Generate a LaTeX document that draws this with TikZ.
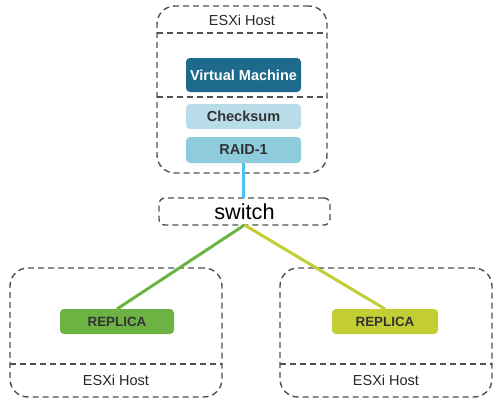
\documentclass[tikz,border=0pt]{standalone}
\usepackage{fontspec}
\setmainfont{Liberation Sans}
\usetikzlibrary{positioning}
\definecolor{vmblue}{HTML}{1D6A8C}
\definecolor{chkblue}{HTML}{B8DDE9}
\definecolor{raidblue}{HTML}{8DCBDD}
\definecolor{linkblue}{HTML}{4DC3EF}
\definecolor{repgreen}{HTML}{6CB344}
\definecolor{repyellow}{HTML}{C3CD34}
\definecolor{txtgray}{HTML}{333333}
\definecolor{dashgray}{HTML}{505050}
\tikzset{
  hostbox/.style={draw=dashgray, line width=1.4pt, dash pattern=on 6pt off 4pt, rounded corners=18pt, inner sep=0pt, outer sep=0pt},
  hostlbl/.style={font=\fontsize{14.5}{16}\selectfont, text=black!85},
  sepline/.style={draw=dashgray, line width=1.4pt, dash pattern=on 6pt off 4pt},
  layerbox/.style={rounded corners=4pt, minimum width=115pt, inner sep=0pt, outer sep=0pt, font=\bfseries\fontsize{14.5}{16}\selectfont, text=txtgray},
  replbox/.style={rounded corners=4pt, minimum height=25pt, inner sep=0pt, outer sep=0pt, font=\bfseries\fontsize{13.4}{15}\selectfont, text=txtgray},
  link/.style={line width=3pt},
}
\begin{document}
\begin{tikzpicture}[x=1pt,y=-1pt]
  \useasboundingbox (0,0) rectangle (500,408);

  % top host
  \node[hostbox, minimum width=170pt, minimum height=167pt] (hostT) at (242,89.5) {};
  \node[hostlbl] (hostTl) at (242,20) {ESXi Host};
  \draw[sepline] (hostT.west |- 0,33) -- (hostT.east |- 0,33);
  \draw[sepline] (hostT.west |- 0,97) -- (hostT.east |- 0,97);

  \node[layerbox, fill=vmblue, text=white, minimum height=34pt] (vm) at (243.5,75) {Virtual Machine};
  \node[layerbox, fill=chkblue, minimum height=25pt] (chk) at (243.5,116.5) {Checksum};
  \node[layerbox, fill=raidblue, minimum height=26pt] (raid) at (243.5,150) {RAID-1};

  % switch
  \node[hostbox, rounded corners=6pt, minimum width=171pt, minimum height=27pt] (sw) at (244.5,211.5) {};
  \node[font=\fontsize{21.7}{24}\selectfont] (swl) at (244.5,212) {switch};

  % bottom hosts
  \node[hostbox, minimum width=212pt, minimum height=129pt] (hostL) at (116,332.5) {};
  \node[hostlbl] (hostLl) at (116,380) {ESXi Host};
  \draw[sepline] (hostL.west |- 0,364) -- (hostL.east |- 0,364);
  \node[replbox, fill=repgreen, minimum width=114pt] (repL) at (117,321.5) {REPLICA};

  \node[hostbox, minimum width=212pt, minimum height=129pt] (hostR) at (386,332.5) {};
  \node[hostlbl] (hostRl) at (386,380) {ESXi Host};
  \draw[sepline] (hostR.west |- 0,364) -- (hostR.east |- 0,364);
  \node[replbox, fill=repyellow, minimum width=106pt] (repR) at (385,321.5) {REPLICA};

  % links
  \draw[link, linkblue] (raid.south) -- (raid.south |- sw.north);
  \draw[link, repgreen] (sw.south) -- (repL.north);
  \draw[link, repyellow] (sw.south) -- (repR.north);
\end{tikzpicture}
\end{document}
